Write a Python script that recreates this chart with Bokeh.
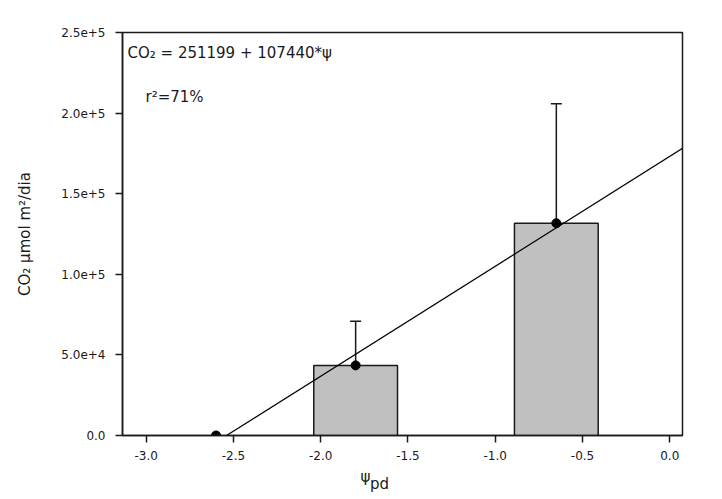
import numpy as np
from bokeh.plotting import figure
from bokeh.models import ColumnDataSource, Whisker, TeeHead, Slope, Label, FixedTicker, Title
from bokeh.embed import file_html
from bokeh.resources import INLINE

# ---- data ----
psi = [-2.6, -1.8, -0.65]            # water potential (x)
co2 = [0, 43500, 131700]             # mean CO2 per group
co2_err = [0, 27400, 74100]          # upper error
x_ticks = [-3.0, -2.5, -2.0, -1.5, -1.0, -0.5, 0.0]
x_tick_labels = ["-3.0", "-2.5", "-2.0", "-1.5", "-1.0", "-0.5", "0.0"]
y_ticks = [0, 50000, 100000, 150000, 200000, 250000]
y_tick_labels = ["0.0", "5.0e+4", "1.0e+5", "1.5e+5", "2.0e+5", "2.5e+5"]
eq_intercept = 251199
eq_slope = 107440
r2_pct = 71

FONT = "DejaVu Sans"
INK = "#1a1a1a"

p = figure(width=716, height=497, x_range=(-3.136, 0.073), y_range=(0, 250000),
           output_backend="svg", toolbar_location=None,
           min_border_left=122, min_border_right=34, min_border_top=32, min_border_bottom=10)
p.background_fill_color = "white"
p.border_fill_color = "white"
p.outline_line_color = INK
p.outline_line_width = 1.5
p.xgrid.visible = False
p.ygrid.visible = False

for ax in (p.xaxis[0], p.yaxis[0]):
    ax.axis_line_width = 1.5
    ax.axis_line_color = INK
    ax.major_tick_line_width = 1.5
    ax.major_tick_line_color = INK
    ax.major_tick_out = 7
    ax.major_tick_in = 0
    ax.minor_tick_out = 0
    ax.minor_tick_in = 0
    ax.major_label_text_font = FONT
    ax.major_label_text_font_size = "12px"
    ax.major_label_text_color = INK
    ax.major_label_standoff = 10
p.xaxis.major_label_standoff = 8

p.xaxis.ticker = FixedTicker(ticks=x_ticks)
p.xaxis.major_label_overrides = {t: l for t, l in zip(x_ticks, x_tick_labels)}
p.yaxis.ticker = FixedTicker(ticks=y_ticks)
p.yaxis.major_label_overrides = {t: l for t, l in zip(y_ticks, y_tick_labels)}

p.yaxis.axis_label = "CO\u2082 \u00b5mol m\u00b2/dia"
p.yaxis.axis_label_text_font = FONT
p.yaxis.axis_label_text_font_size = "15px"
p.yaxis.axis_label_text_font_style = "normal"
p.yaxis.axis_label_text_color = INK
p.yaxis.axis_label_standoff = 24

# bars (only non-zero groups have a visible bar)
bar_idx = [i for i, v in enumerate(co2) if v > 0]
bars = ColumnDataSource(dict(x=[psi[i] for i in bar_idx], top=[co2[i] for i in bar_idx]))
p.vbar(x="x", top="top", width=0.48, bottom=0, source=bars,
       fill_color="#c0c0c0", line_color=INK, line_width=1.5)

# upper error bars
err_idx = [i for i, e in enumerate(co2_err) if e > 0]
err = ColumnDataSource(dict(x=[psi[i] for i in err_idx],
                            lower=[co2[i] for i in err_idx],
                            upper=[co2[i] + co2_err[i] for i in err_idx]))
p.add_layout(Whisker(base="x", lower="lower", upper="upper", source=err,
                     line_color=INK, line_width=1.5, lower_head=None,
                     upper_head=TeeHead(size=11, line_color=INK, line_width=1.5)))

# regression line fitted through the means
slope, intercept = np.polyfit(psi, co2, 1)
p.add_layout(Slope(gradient=slope, y_intercept=intercept, line_color="black", line_width=1.2))

# points
p.scatter(psi, co2, size=9, color="black")

# equation and r2 text
p.add_layout(Label(x=5, y=383, x_units="screen", y_units="screen",
                   text=f"CO\u2082 = {eq_intercept} + {eq_slope}*\u03c8",
                   text_font=FONT, text_font_size="15px", text_color=INK,
                   text_baseline="alphabetic"))
p.add_layout(Label(x=23, y=339, x_units="screen", y_units="screen",
                   text=f"r\u00b2={r2_pct}%",
                   text_font=FONT, text_font_size="15px", text_color=INK,
                   text_baseline="alphabetic"))

# x-axis label: psi with subscript "pd" (second line, slightly lower, shifted right)
p.add_layout(Title(text="\u03c8\n\u00a0\u00a0pd", align="left", offset=238, standoff=8,
                   text_font=FONT, text_font_size="15px", text_font_style="normal",
                   text_line_height=0.4, text_color=INK), "below")

open("out.html", "w").write(file_html(p, INLINE))
